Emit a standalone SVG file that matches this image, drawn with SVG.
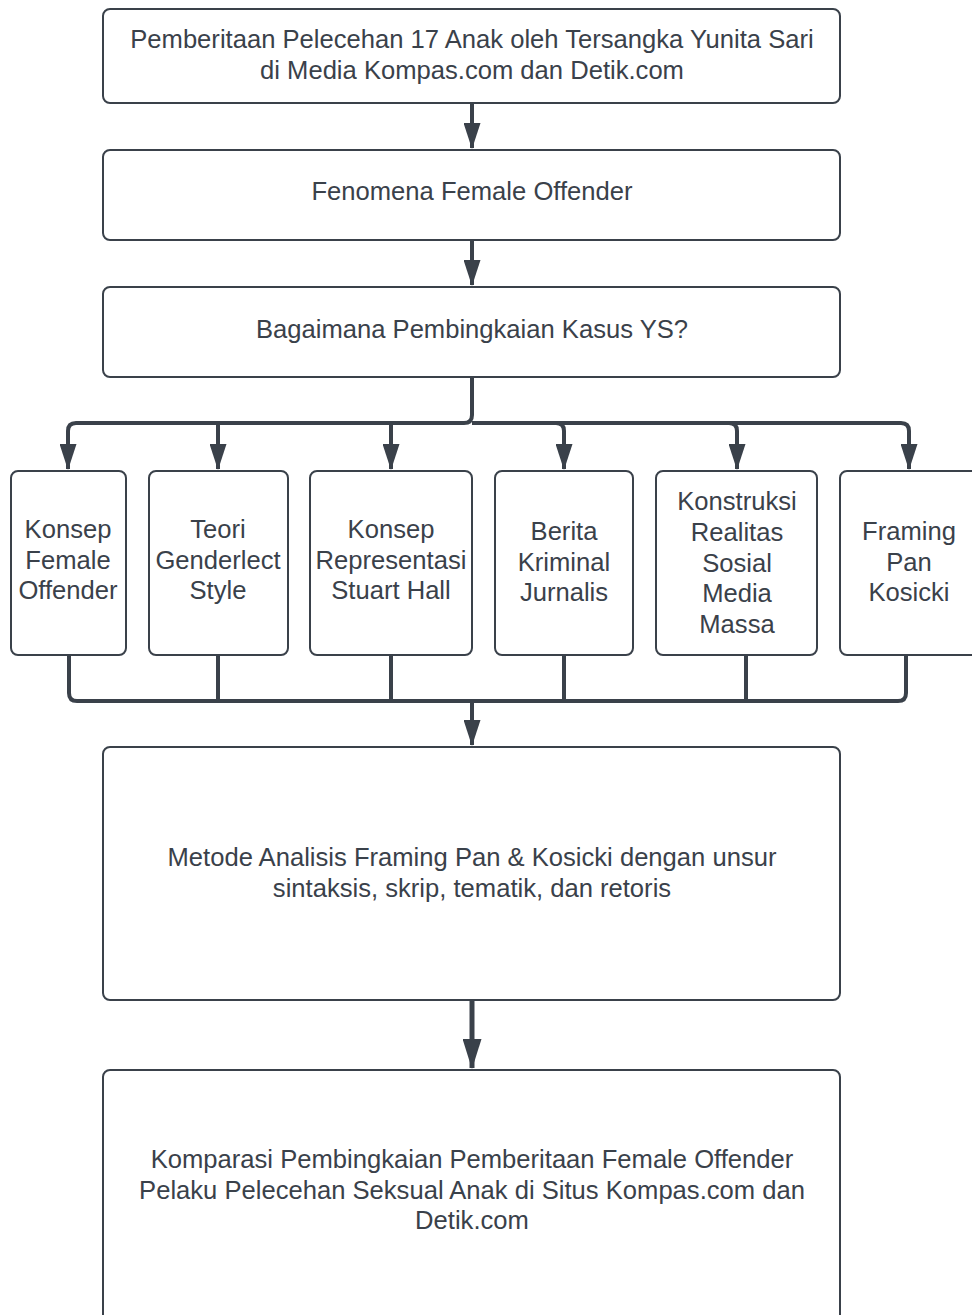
<svg xmlns="http://www.w3.org/2000/svg" width="972" height="1315" viewBox="0 0 972 1315">
<defs>
<style>
.box{fill:#ffffff;stroke:#3a414a;stroke-width:2}
.t{font-family:"Liberation Sans",Arial,sans-serif;font-size:25.6px;fill:#3a414a;text-anchor:middle}
.c{fill:none;stroke:#3a414a;stroke-width:4}
.c2{fill:none;stroke:#3a414a;stroke-width:5}
</style>
<marker id="ah" markerUnits="userSpaceOnUse" markerWidth="26" markerHeight="17" refX="25" refY="8.5" orient="auto" viewBox="0 0 26 17">
<path d="M0,0 L26,8.5 L0,17 Z" fill="#3a414a"/>
</marker>
<marker id="ah2" markerUnits="userSpaceOnUse" markerWidth="30" markerHeight="19" refX="29" refY="9.5" orient="auto" viewBox="0 0 30 19">
<path d="M0,0 L30,9.5 L0,19 Z" fill="#3a414a"/>
</marker>
</defs>
<rect width="972" height="1315" fill="#ffffff"/>
<g id="connectors">
<path class="c" d="M472,103 V148" marker-end="url(#ah)"/>
<path class="c" d="M472,240 V285" marker-end="url(#ah)"/>
<path class="c" d="M472,377 V415 Q472,423 464,423 H76 Q68,423 68,431 V469" marker-end="url(#ah)"/>
<path class="c" d="M218,423 V469" marker-end="url(#ah)"/>
<path class="c" d="M391,423 V469" marker-end="url(#ah)"/>
<path class="c" d="M472,423 H556 Q564,423 564,431 V469" marker-end="url(#ah)"/>
<path class="c" d="M556,423 H729 Q737,423 737,431 V469" marker-end="url(#ah)"/>
<path class="c" d="M729,423 H901 Q909,423 909,431 V469" marker-end="url(#ah)"/>
<path class="c" d="M69,655 V693 Q69,701 77,701 H898 Q906,701 906,693 V655"/>
<path class="c" d="M218,655 V701"/>
<path class="c" d="M391,655 V701"/>
<path class="c" d="M564,655 V701"/>
<path class="c" d="M746,655 V701"/>
<path class="c" d="M472,701 V745" marker-end="url(#ah)"/>
<path class="c2" d="M472,1000 V1068" marker-end="url(#ah2)"/>
</g>
<g id="n1"><rect class="box" x="103" y="9" width="737" height="94" rx="7"/>
<text class="t" x="472" y="48">Pemberitaan Pelecehan 17 Anak oleh Tersangka Yunita Sari</text>
<text class="t" x="472" y="79">di Media Kompas.com dan Detik.com</text></g>
<g id="n2"><rect class="box" x="103" y="150" width="737" height="90" rx="7"/>
<text class="t" x="472" y="200">Fenomena Female Offender</text></g>
<g id="n3"><rect class="box" x="103" y="287" width="737" height="90" rx="7"/>
<text class="t" x="472" y="338">Bagaimana Pembingkaian Kasus YS?</text></g>
<g id="n4"><rect class="box" x="11" y="471" width="115" height="184" rx="7"/>
<text class="t" x="68" y="538">Konsep</text><text class="t" x="68" y="569">Female</text><text class="t" x="68" y="599">Offender</text></g>
<g id="n5"><rect class="box" x="149" y="471" width="139" height="184" rx="7"/>
<text class="t" x="218" y="538">Teori</text><text class="t" x="218" y="569">Genderlect</text><text class="t" x="218" y="599">Style</text></g>
<g id="n6"><rect class="box" x="310" y="471" width="162" height="184" rx="7"/>
<text class="t" x="391" y="538">Konsep</text><text class="t" x="391" y="569">Representasi</text><text class="t" x="391" y="599">Stuart Hall</text></g>
<g id="n7"><rect class="box" x="495" y="471" width="138" height="184" rx="7"/>
<text class="t" x="564" y="540">Berita</text><text class="t" x="564" y="571">Kriminal</text><text class="t" x="564" y="601">Jurnalis</text></g>
<g id="n8"><rect class="box" x="656" y="471" width="161" height="184" rx="7"/>
<text class="t" x="737" y="510">Konstruksi</text><text class="t" x="737" y="541">Realitas</text><text class="t" x="737" y="572">Sosial</text><text class="t" x="737" y="602">Media</text><text class="t" x="737" y="633">Massa</text></g>
<g id="n9"><rect class="box" x="840" y="471" width="138" height="184" rx="7"/>
<text class="t" x="909" y="540">Framing</text><text class="t" x="909" y="571">Pan</text><text class="t" x="909" y="601">Kosicki</text></g>
<g id="n10"><rect class="box" x="103" y="747" width="737" height="253" rx="7"/>
<text class="t" x="472" y="866">Metode Analisis Framing Pan &amp; Kosicki dengan unsur</text>
<text class="t" x="472" y="897">sintaksis, skrip, tematik, dan retoris</text></g>
<g id="n11"><rect class="box" x="103" y="1070" width="737" height="270" rx="7"/>
<text class="t" x="472" y="1168">Komparasi Pembingkaian Pemberitaan Female Offender</text>
<text class="t" x="472" y="1199">Pelaku Pelecehan Seksual Anak di Situs Kompas.com dan</text>
<text class="t" x="472" y="1229">Detik.com</text></g>
</svg>
